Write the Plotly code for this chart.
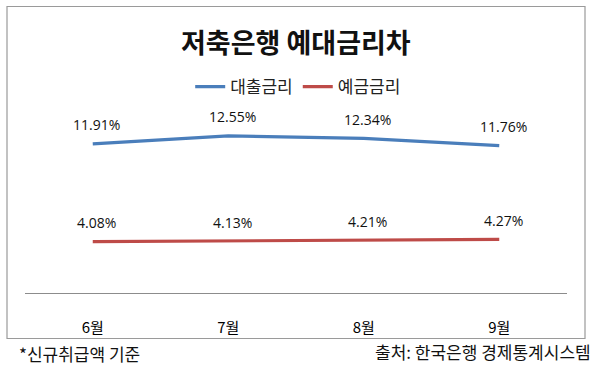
import plotly.graph_objects as go

months = ["6월", "7월", "8월", "9월"]
loan_rate = [11.91, 12.55, 12.34, 11.76]
deposit_rate = [4.08, 4.13, 4.21, 4.27]
series_names = ["대출금리", "예금금리"]
title_text = "저축은행 예대금리차"
note_left = "*신규취급액 기준"
note_right = "출처: 한국은행 경제통계시스템"

W, H = 600, 371
KR = "Noto Sans CJK KR"
NUM = "Open Sans"
BLUE = "#4A7EBB"
RED = "#BE4B48"

def px_x(p):
    return p / W

def px_y(p):
    return 1 - p / H

fig = go.Figure()
fig.add_trace(go.Scatter(x=months, y=loan_rate, name=series_names[0], mode="lines",
                         line=dict(color=BLUE, width=3.2)))
fig.add_trace(go.Scatter(x=months, y=deposit_rate, name=series_names[1], mode="lines",
                         line=dict(color=RED, width=3.2)))

annotations = []
for series in (loan_rate, deposit_rate):
    for m, v in zip(months, series):
        annotations.append(dict(x=m, y=v, xref="x", yref="y", text=f"{v:.2f}%",
                                showarrow=False, yshift=19, xshift=4,
                                font=dict(family=NUM, size=14, color="#111")))

annotations.append(dict(x=px_x(296), y=px_y(42), xref="paper", yref="paper",
                        text=f"<b>{title_text}</b>", showarrow=False,
                        xanchor="center", yanchor="middle",
                        font=dict(family=KR, size=27, color="#111")))
annotations.append(dict(x=px_x(17), y=px_y(353), xref="paper", yref="paper",
                        text=note_left, showarrow=False, xanchor="left", yanchor="middle",
                        font=dict(family=KR, size=17, color="#111")))
annotations.append(dict(x=px_x(593), y=px_y(351), xref="paper", yref="paper",
                        text=note_right, showarrow=False, xanchor="right", yanchor="middle",
                        font=dict(family=KR, size=17, color="#111")))

fig.update_layout(
    width=W, height=H,
    margin=dict(l=0, r=0, t=0, b=0),
    paper_bgcolor="white", plot_bgcolor="white",
    showlegend=True,
    legend=dict(orientation="h", x=0.497, xanchor="center", y=px_y(87), yanchor="middle",
                font=dict(family=KR, size=17, color="#222"),
                itemwidth=30, bgcolor="rgba(0,0,0,0)"),
    xaxis=dict(domain=[px_x(25), px_x(567)], range=[-0.5, 3.5], showgrid=False, zeroline=False,
               showline=True, linecolor="#8c8c8c", linewidth=1.2,
               ticks="outside", ticklen=21, tickcolor="rgba(0,0,0,0)",
               tickfont=dict(family=KR, size=15, color="#000"),
               fixedrange=True),
    yaxis=dict(domain=[px_y(292.7), px_y(117.7)], range=[0, 14], showgrid=False,
               zeroline=False, showline=False, showticklabels=False, ticks="",
               fixedrange=True),
    annotations=annotations,
    shapes=[dict(type="rect", xref="paper", yref="paper",
                 x0=px_x(7), x1=px_x(585), y0=px_y(338.5), y1=px_y(6.5),
                 line=dict(color="#9a9a9a", width=1.2), fillcolor="rgba(0,0,0,0)")],
)

fig.write_html("out.html", config={"displayModeBar": False},
               post_script="document.body.style.margin='0';")
